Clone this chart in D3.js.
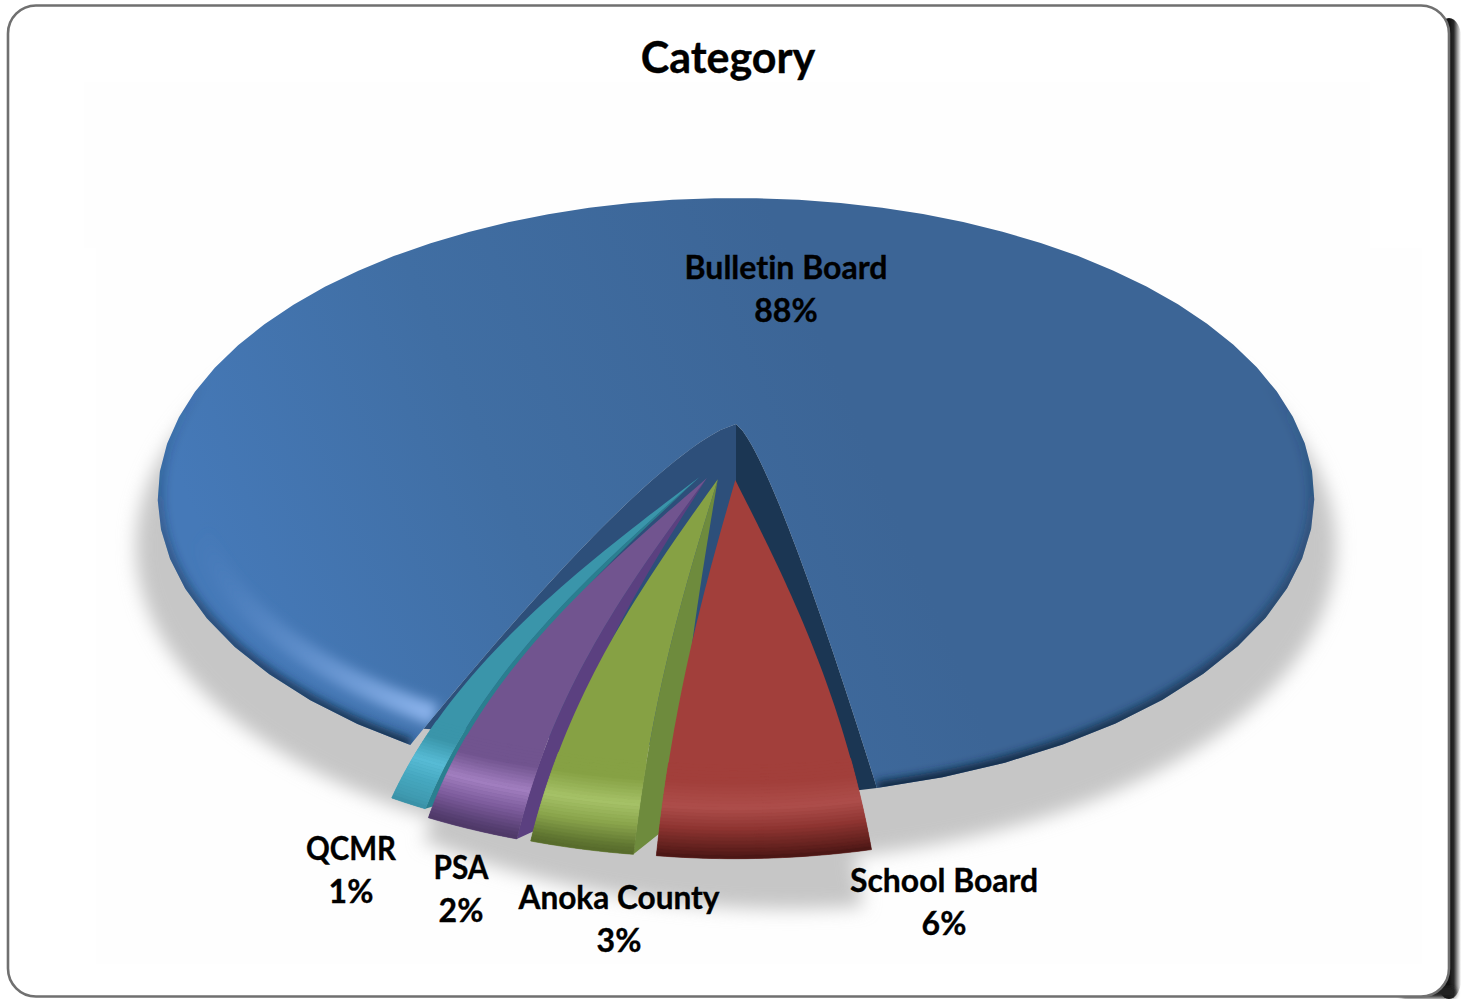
<!DOCTYPE html>
<html>
<head>
<meta charset="utf-8">
<title>Category</title>
<script src="https://cdn.jsdelivr.net/npm/d3@7/dist/d3.min.js"></script>
<style>
html,body{margin:0;padding:0;background:#fff;overflow:hidden}
svg{display:block}
text{font-family:Lato,"Open Sans",sans-serif;font-weight:700;fill:#000;stroke:#000;stroke-width:.35px;text-anchor:middle;font-variant-ligatures:none}
</style>
</head>
<body>
<svg id="chart" width="1462" height="999"></svg>
<script>
// Chart content
const chartTitle = "Category";
const categories = ["Bulletin Board", "School Board", "Anoka County", "PSA", "QCMR"];
const shares = [88, 6, 3, 2, 1];

// Label anchors: centre x, first-line baseline; width of the name line
const labelAnchors = [[786, 279], [944, 892], [619, 909], [461, 879], [351, 860]];
const labelWidths = [203, 188, 201, 55, 90];

// Tilted-disc projection: a unit disc seen in perspective
const W = 1462, H = 999;
const view = {cx: 736, y0: 424, c: 560.6, b: 177.4, k: 0.2454};
const rad = d => d * Math.PI / 180;
const flatBow = r => Math.pow(r, 0.75);            // gentle bow of the main slice's cut edges
// Rounded shoulders of the pulled slices, stronger for the larger ones
const roundBow = m => r => (1 - m) * r + m * Math.sin(r * Math.PI / 2);
function project(deg, rho, part) {
  const a = rad(deg);
  const u = part.scale * part.bow(rho) * Math.sin(a) + part.ex;
  const v = -part.scale * rho * Math.cos(a) + part.ey;
  const w = 1 - view.k * v;
  return [view.cx + view.c * u / w, (view.y0 + view.b * v) / w];
}

// Pie layout, clockwise from the lower-left cut of the main slice
const pieStart = 207;
const pie = d3.pie().sort(null).value(d => d).startAngle(rad(pieStart)).endAngle(rad(pieStart + 360));
const arcs = pie(shares).map(d => ({start: d.startAngle * 180 / Math.PI, end: d.endAngle * 180 / Math.PI}));
// Foreshortening of angles around the front of the disc
const lens = d3.scaleLinear()
  .domain([pieStart, pieStart + 316.8, pieStart + 338.4, pieStart + 349.2, pieStart + 356.4, pieStart + 360])
  .range([pieStart, 529, 546.3, 554.8, 562.7, 566]);

const line = d3.line();
const arcPts = (a0, a1, rho, part, n = 60) =>
  d3.range(n + 1).map(i => project(a0 + (a1 - a0) * i / n, rho, part));
const rayPts = (a, r0, r1, part, n = 40) =>
  d3.range(n + 1).map(i => project(a, r0 + (r1 - r0) * i / n, part));
const facePts = (a0, a1, part) => [...rayPts(a0, 0, 1, part), ...arcPts(a0, a1, 1, part), ...rayPts(a1, 1, 0, part)];

const svg = d3.select("#chart");
const defs = svg.append("defs");
const blur = (id, sd) => defs.append("filter").attr("id", id)
  .attr("filterUnits", "userSpaceOnUse").attr("x", 0).attr("y", 0).attr("width", W).attr("height", H)
  .append("feGaussianBlur").attr("stdDeviation", sd);
blur("blurHair", 0.6); blur("blur2", 2); blur("blur4", 4); blur("blur6", 6); blur("blur10", 9);

function gradient(id, type, attrs, stops) {
  const g = defs.append(type).attr("id", id).attr("gradientUnits", "userSpaceOnUse");
  Object.entries(attrs).forEach(([k, v]) => g.attr(k, v));
  stops.forEach(([o, col, op]) => g.append("stop").attr("offset", o).attr("stop-color", col).attr("stop-opacity", op === undefined ? 1 : op));
}

// Card behind the chart
gradient("edgeShade", "linearGradient", {x1: 1449, y1: 0, x2: 1461, y2: 0}, [[0, "#111"], [0.4, "#2a2a2a"], [0.7, "#999"], [1, "#fff"]]);
svg.append("rect").attr("width", W).attr("height", H).attr("fill", "#fff");
svg.append("rect").attr("x", 1436).attr("y", 18).attr("width", 26).attr("height", 981).attr("rx", 24).attr("fill", "url(#edgeShade)");
svg.append("rect").attr("x", 1400).attr("y", 987).attr("width", 56).attr("height", 11).attr("rx", 6).attr("fill", "#222").attr("filter", "url(#blur2)");
svg.append("rect").attr("x", 8).attr("y", 5.5).attr("width", 1441).attr("height", 991).attr("rx", 28)
  .attr("fill", "#fff").attr("stroke", "#6f6f6f").attr("stroke-width", 2.6).attr("filter", "url(#blurHair)");
svg.append("rect").attr("x", 84).attr("y", 82).attr("width", 1286).attr("height", 166).attr("fill", "#fefefe");
svg.append("rect").attr("x", 96).attr("y", 248).attr("width", 1326).attr("height", 716).attr("fill", "#fefefe");

svg.append("text").attr("x", 728).attr("y", 73).attr("font-size", 43).text(chartTitle);

// Parts: the main slice stays in place, the rest are pulled toward the viewer
const mainPart = {scale: 1, ex: 0, ey: 0, bow: flatBow};
const pull = 0.19, pullSpread = 0.7;
const partScales = [1, 0.93, 0.93, 0.93, 0.915];
const partBows = [0, 0.65, 0.7, 0.75, 0.68];
const parts = arcs.map((d, i) => {
  if (i === 0) return mainPart;
  const mid = 180 + ((lens((d.start + d.end) / 2) - 360) - 180) * pullSpread + 2;
  return {scale: partScales[i], ex: pull * Math.sin(rad(mid)), ey: -pull * Math.cos(rad(mid)), bow: roundBow(partBows[i])};
});

// Ground shadow: the disc plus one fan under the pulled slices
const fanStart = lens(arcs[1].start) - 360, fanEnd = lens(arcs[4].end) - 360;
const fanPart = {scale: 0.93, ex: -0.03, ey: 0.18, bow: roundBow(0.7)};
const shadow = svg.append("g").attr("fill", "#c6c6c6").attr("filter", "url(#blur10)");
shadow.append("ellipse").attr("cx", 736).attr("cy", 547).attr("rx", 600).attr("ry", 315);
shadow.append("path").attr("d", line(facePts(fanStart, fanEnd, fanPart)) + "Z")
  .attr("transform", "translate(14,11) matrix(1,0.06,0,1,0,0)");

// Walls of the main slice inside the cut
const mainA0 = lens(arcs[0].start), mainA1 = lens(arcs[0].end);
const innerFoot = [view.cx, view.y0 + 66];
const wallLeft = [...rayPts(mainA0, 0, 0.96, mainPart), project(mainA0 - 24, 0.9, mainPart), innerFoot];
const wallRight = [...rayPts(mainA1 - 360, 0, 1, mainPart), project(mainA1 - 360 + 1.5, 1, mainPart), innerFoot];
svg.append("path").attr("d", line(wallLeft) + "Z").attr("fill", "#2d4f7a");
svg.append("path").attr("d", line(wallRight) + "Z").attr("fill", "#1b3653");

// Main slice face with its bevelled rim
const mainFace = line(facePts(mainA0, mainA1, mainPart)) + "Z";
defs.append("clipPath").attr("id", "mainClip").append("path").attr("d", mainFace);
gradient("mainFill", "linearGradient", {x1: 250, y1: 650, x2: 850, y2: 400},
  [[0, "#4579b8"], [0.45, "#406ea3"], [1, "#3c6596"]]);
gradient("rimDark", "linearGradient", {x1: 0, y1: 380, x2: 0, y2: 790},
  [[0, "#14304f", 0], [0.45, "#14304f", 0.45], [1, "#10263f", 1]]);
gradient("rimLight", "radialGradient", {cx: 430, cy: 725, r: 300},
  [[0, "#8fb6ee", 1], [0.45, "#709dd9", 0.65], [1, "#5a8ac8", 0]]);
svg.append("path").attr("d", mainFace).attr("fill", "url(#mainFill)");
const rim = svg.append("g").attr("clip-path", "url(#mainClip)").attr("fill", "none");
rim.append("path").attr("d", line(arcPts(mainA0, mainA1, 0.925, mainPart, 200)))
  .attr("stroke", "url(#rimLight)").attr("stroke-width", 22).attr("filter", "url(#blur6)");
rim.append("path").attr("d", line(arcPts(mainA0, mainA1, 1, mainPart, 200)))
  .attr("stroke", "url(#rimDark)").attr("stroke-width", 13).attr("filter", "url(#blur4)");

// Face shading by radius for the pulled slices: base, highlight near the rim, dark lip
const faceRamps = [null,
  ["#a23f3b", "#a23f3b", "#ad4e4b", "#8d3431", "#5c1e1b", "#471513"],
  ["#86a144", "#86a144", "#a6c268", "#8aa54c", "#5e7430", "#566a2b"],
  ["#71548f", "#71548f", "#a27fc0", "#7d5c9c", "#553e70", "#4d3766"],
  ["#3a95aa", "#3a95aa", "#58bcd6", "#46a8c0", "#3f9ab0", "#3a90a6"]];
const wallColors = [null, null, "#6e8b3d", "#5b4080", "#2a7f90"];
const wallReach = [0, 0, 0.93, 0.965, 0.98];
const wallSpread = [0, 0, 3, 2, 1.2];
const rhoStops = [0, 0.84, 0.895, 0.94, 0.985, 1];

// Back to front: the leftmost sliver first, the largest pulled slice last
[4, 3, 2, 1].forEach(i => {
  const a0 = lens(arcs[i].start) - 360, a1 = lens(arcs[i].end) - 360, part = parts[i];
  const g = svg.append("g");
  if (wallColors[i]) {
    g.append("path")
      .attr("d", line([...rayPts(a0, 0, 1, part), ...rayPts(a0 - wallSpread[i], wallReach[i], 0, part)]) + "Z")
      .attr("fill", wallColors[i]);
  }
  const shade = d3.scaleLinear().domain(rhoStops).range(faceRamps[i]);
  g.append("path").attr("d", line(facePts(a0, a1, part)) + "Z").attr("fill", faceRamps[i][0]);
  const dr = 1 / 140;
  const steps = d3.range(0.8, 1 - dr / 2, dr).map(r => [r, r + dr]);
  g.selectAll(".band").data(steps).join("path").attr("class", "band")
    .attr("d", ([r0, r1]) => line([...arcPts(a0, a1, r0, part, 24), ...arcPts(a1, a0, r1, part, 24)]) + "Z")
    .attr("fill", ([r0]) => shade(r0 + dr / 2))
    .attr("stroke", ([r0]) => shade(r0 + dr / 2))
    .attr("stroke-width", 0.6);
});

// Category and percentage labels
const labels = svg.append("g").attr("font-size", 32);
labels.selectAll("g").data(categories).join("g").each(function (name, i) {
  const [x, y] = labelAnchors[i], lab = d3.select(this);
  lab.append("text").attr("x", x).attr("y", y)
    .attr("textLength", labelWidths[i]).attr("lengthAdjust", "spacingAndGlyphs").text(name);
  lab.append("text").attr("x", x).attr("y", y + 43).text(shares[i] + "%");
});
</script>
</body>
</html>
